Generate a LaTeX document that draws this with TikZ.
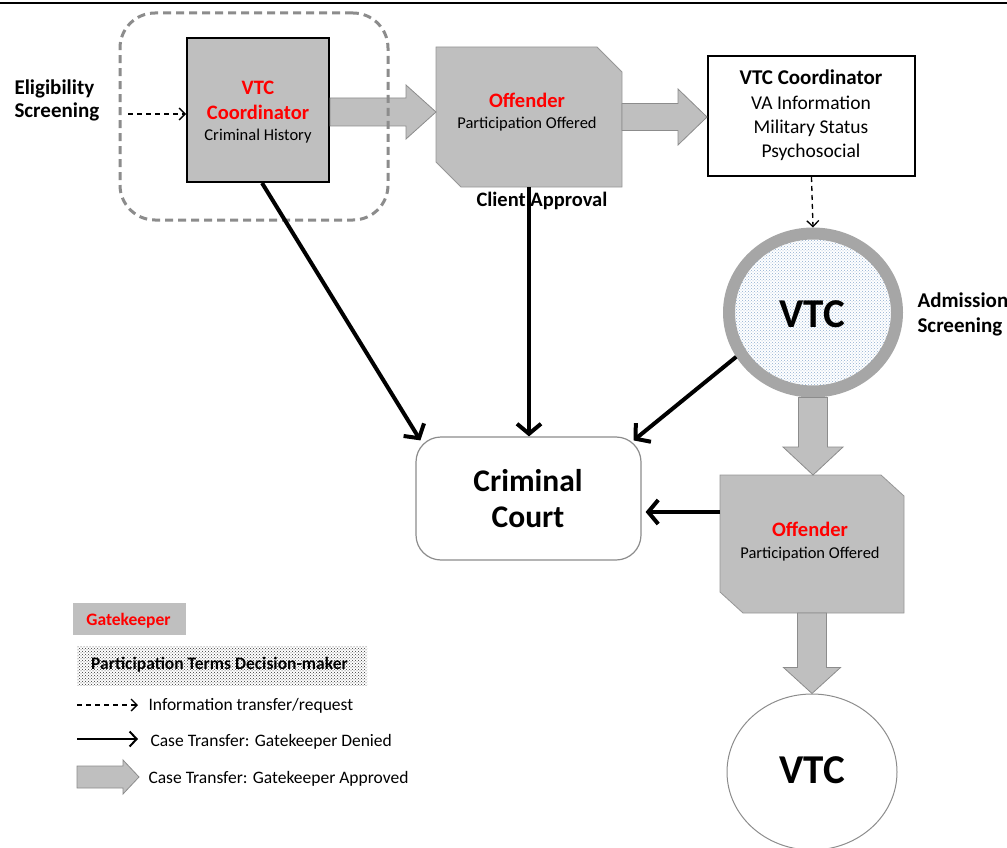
\documentclass[tikz,border=0pt]{standalone}
\usepackage{fontspec}
\setmainfont{Carlito}
\usetikzlibrary{arrows.meta,shapes.geometric,patterns,calc}

\definecolor{gateGray}{HTML}{BFBFBF}
\definecolor{edgeGray}{HTML}{8C8C8C}
\definecolor{ringGray}{HTML}{A6A6A6}
\definecolor{roleRed}{HTML}{FF0000}
\definecolor{dotBlue}{HTML}{8FAED0}

\newcommand\setfs[1]{\fontsize{#1}{#1}\selectfont}

% horizontal block arrow: start, end, shaft half-width, head half-width, head length
\newcommand\gateArrowH[5]{%
  \draw[approved] let \p1=#1, \p2=#2 in
    (\x1,\y1+#3) -- (\x2-#5,\y1+#3) -- (\x2-#5,\y1+#4) -- (\x2,\y1)
    -- (\x2-#5,\y1-#4) -- (\x2-#5,\y1-#3) -- (\x1,\y1-#3) -- cycle;}
% vertical (downward) block arrow
\newcommand\gateArrowV[5]{%
  \draw[approved] let \p1=#1, \p2=#2 in
    (\x1+#3,\y1) -- (\x1+#3,\y2+#5) -- (\x1+#4,\y2+#5) -- (\x1,\y2)
    -- (\x1-#4,\y2+#5) -- (\x1-#3,\y2+#5) -- (\x1-#3,\y1) -- cycle;}

\tikzset{
  approved/.style={fill=gateGray, draw=edgeGray, line width=0.8pt},
  deny/.style={line width=4pt, -{Straight Barb[length=10pt,width=24pt]}},
  info/.style={line width=1.3pt, dash pattern=on 5pt off 4pt, -{Straight Barb[length=6pt,width=12pt]}},
  gatebox/.style={rectangle, draw=black, line width=2pt, fill=gateGray, inner sep=0pt},
  plainbox/.style={rectangle, draw=black, line width=2pt, fill=white, inner sep=0pt},
  anchorbox/.style={rectangle, inner sep=0pt, outer sep=0pt},
  offshape/.style={fill=gateGray, draw=edgeGray!90, line width=0.8pt},
  screenframe/.style={rectangle, draw=edgeGray, line width=3pt, dash pattern=on 8pt off 5pt, rounded corners=35pt},
  role/.style={anchor=base, text=roleRed, font=\setfs{20.5}\bfseries},
  detail/.style={anchor=base, font=\setfs{16.5}},
  heading/.style={anchor=base, font=\setfs{21}\bfseries},
  infoline/.style={anchor=base, font=\setfs{19.5}},
  bigname/.style={anchor=base, font=\setfs{41}\bfseries},
  legendtext/.style={anchor=base west, font=\setfs{17.5}},
}

\begin{document}
\begin{tikzpicture}[x=1pt,y=-1pt]
\useasboundingbox (0,0) rectangle (1007,848);

% rule along the top edge
\draw[line width=2pt] (0,3) -- (1007,3);

% ---- shapes ----
\node[gatebox, minimum width=142pt, minimum height=144pt] (coord) at (258,110) {};

\node[anchorbox, minimum width=186pt, minimum height=140pt] (off1) at (529,117) {};
\draw[offshape] (off1.north west) -- ([xshift=-25pt]off1.north east)
  -- ([yshift=-25pt]off1.north east) -- (off1.south east)
  -- ([xshift=25pt]off1.south west) -- ([yshift=25pt]off1.south west) -- cycle;

\node[plainbox, minimum width=207pt, minimum height=120pt] (coord2) at (811.5,116) {};

\node[ellipse, draw=ringGray, line width=12pt, minimum width=168pt, minimum height=158pt,
      inner sep=0pt, preaction={fill=white}, pattern=crosshatch dots, pattern color=dotBlue]
      (vtc1) at (813,312.5) {};

\node[rectangle, draw=edgeGray, line width=1.2pt, rounded corners=25pt, fill=white,
      minimum width=225pt, minimum height=123pt] (court) at (528.5,498.5) {};

\node[anchorbox, minimum width=184pt, minimum height=138pt] (off2) at (812,544) {};
\draw[offshape] (off2.north west) -- ([xshift=-23pt]off2.north east)
  -- ([yshift=-21pt]off2.north east) -- (off2.south east)
  -- ([xshift=23pt]off2.south west) -- ([yshift=21pt]off2.south west) -- cycle;

\node[ellipse, draw=edgeGray, line width=1pt, minimum width=170pt, minimum height=156pt,
      inner sep=0pt] (vtc2) at (812,772) {};

% ---- approved transfers ----
\coordinate (a1y) at (0,112);
\coordinate (a2y) at (0,117);
\gateArrowH{(coord.east |- a1y)}{(off1.west |- a1y)}{14pt}{27pt}{30pt}
\gateArrowH{(off1.east |- a2y)}{(coord2.west |- a2y)}{13.5pt}{28pt}{29pt}
\gateArrowV{(vtc1.south)}{(off2.north)}{14.5pt}{30pt}{28pt}
\gateArrowV{(off2.south)}{(vtc2.north)}{14.5pt}{28.5pt}{26pt}

% eligibility screening frame
\node[screenframe, minimum width=268pt, minimum height=207pt] (frame) at (254,116.5) {};

% ---- texts ----
\node[role] (coordA) at (258,95) {VTC};
\node[role] (coordB) at (258,120) {Coordinator};
\node[detail] (coordC) at (258,141) {Criminal History};

\node[anchor=base west, font=\setfs{21}\bfseries] (eligA) at (11,95) {Eligibility};
\node[anchor=base west, font=\setfs{21}\bfseries] (eligB) at (11,118) {Screening};

\node[role] (off1A) at (527,108) {Offender};
\node[detail] (off1B) at (527,129) {Participation Offered};

\node[heading] (coord2A) at (811,85) {VTC Coordinator};
\node[infoline] (coord2B) at (811,110) {VA Information};
\node[infoline] (coord2C) at (811,134) {Military Status};
\node[infoline] (coord2D) at (811,158) {Psychosocial};

\node[bigname] (vtc1T) at (812,327) {VTC};
\node[anchor=base west, font=\setfs{21}\bfseries] (admA) at (914,307) {Admission};
\node[anchor=base west, font=\setfs{21}\bfseries] (admB) at (914,332) {Screening};

\node[anchor=base, font=\setfs{31.5}\bfseries] (courtA) at (528,491) {Criminal};
\node[anchor=base, font=\setfs{31.5}\bfseries] (courtB) at (528,527) {Court};

\node[role] (off2A) at (810,536) {Offender};
\node[detail] (off2B) at (810,558) {Participation Offered};

\node[bigname] (vtc2T) at (812,783) {VTC};

% ---- information requests ----
\coordinate (eligIn) at (128,114);
\draw[info] (eligIn) -- (coord.west |- eligIn);
\draw[info] (coord2.south) -- (vtc1.north);

% ---- denied transfers ----
\draw[deny] ([xshift=4pt]coord.south) -- ($(court.north west)+(5,4)$);
\draw[deny] (off1.south) -- (off1.south |- court.north);
\draw[deny] (vtc1.210) -- ($(court.north east)+(-8,4)$);
\coordinate (d4y) at (0,512);
\draw[deny] (off2.west |- d4y) -- ($(court.east |- d4y)+(4,0)$);

\node[anchor=base west, font=\setfs{20.5}\bfseries] (client) at (473,207) {Client Approval};

% ---- legend ----
\node[rectangle, fill=gateGray, minimum width=113pt, minimum height=32pt, inner sep=0pt]
  (legGate) at (129.5,619) {};
\node[anchor=base, text=roleRed, font=\setfs{17.5}\bfseries] (legGateT) at (128.5,625) {Gatekeeper};

\node[rectangle, preaction={fill=white}, pattern=crosshatch dots, pattern color=black!80,
      minimum width=290pt, minimum height=39pt, inner sep=0pt] (legDec) at (222,665.5) {};
\node[anchor=base, font=\setfs{17.5}\bfseries] (legDecT) at (219.5,669) {Participation Terms Decision-maker};

\coordinate (legInfoS) at (77,705);
\coordinate (legInfoE) at (138,705);
\draw[info] (legInfoS) -- (legInfoE);
\node[legendtext] (legInfoT) at (145,710) {Information transfer/request};

\coordinate (legDenyS) at (77,739);
\coordinate (legDenyE) at (138,739);
\draw[line width=2pt, -{Straight Barb[length=7pt,width=15pt]}] (legDenyS) -- (legDenyE);
\node[legendtext] (legDenyT) at (147,746) {Case Transfer: Gatekeeper Denied};

\coordinate (legAppS) at (77,777);
\coordinate (legAppE) at (139,777);
\gateArrowH{(legAppS)}{(legAppE)}{11pt}{17pt}{16pt}
\node[legendtext] (legAppT) at (145,783) {Case Transfer: Gatekeeper Approved};

\end{tikzpicture}
\end{document}
